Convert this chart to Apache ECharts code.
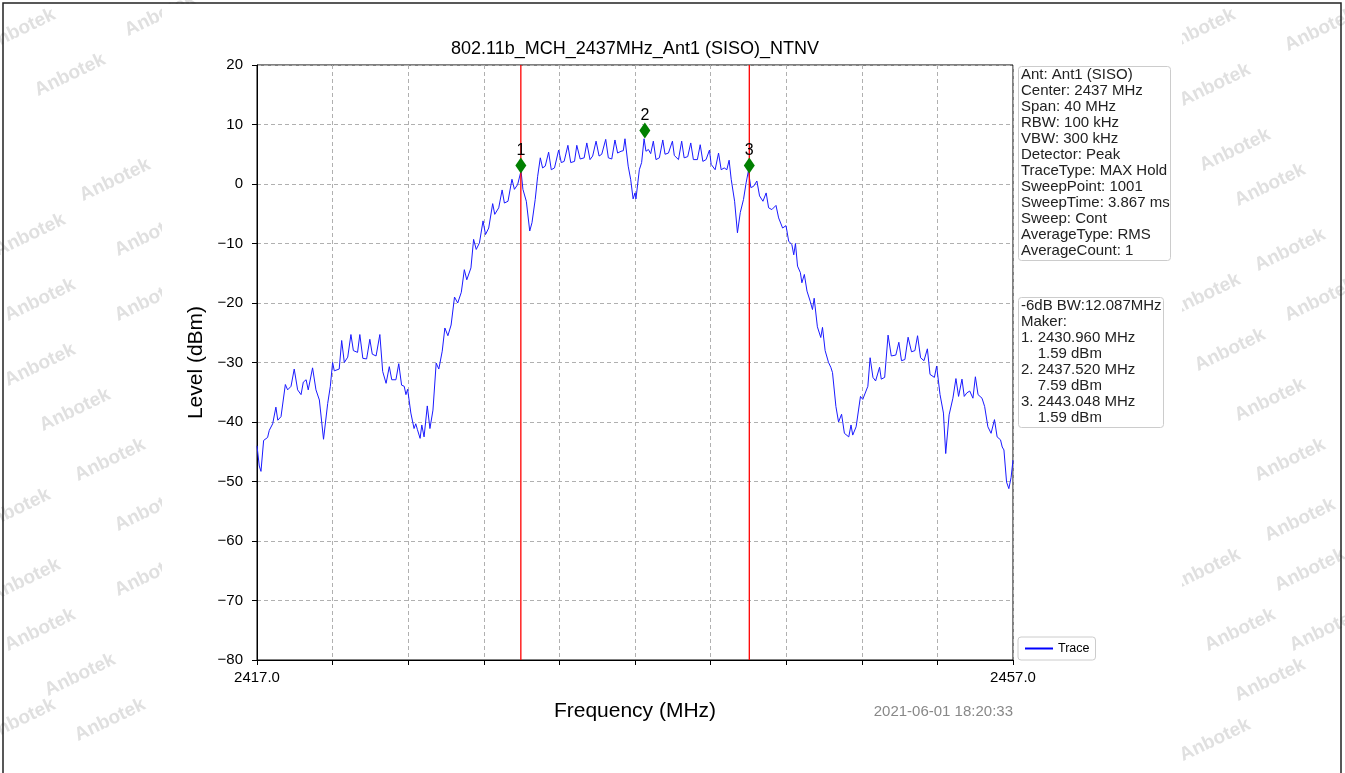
<!DOCTYPE html>
<html>
<head>
<meta charset="utf-8">
<script src="https://cdn.jsdelivr.net/npm/echarts@6/dist/echarts.min.js"></script>
<style>
html,body{margin:0;padding:0;background:#fff;}
#chart{width:1345px;height:773px;}
</style>
</head>
<body>
<div id="chart"></div>
<script>
// ---- data ----
const titleText = '802.11b_MCH_2437MHz_Ant1 (SISO)_NTNV';
const freqMHz = [
2417.00,2417.12,2417.21,2417.35,2417.56,2417.65,2417.83,2418.00,2418.10,2418.27,
2418.50,2418.62,2418.80,2418.97,2419.15,2419.33,2419.45,2419.60,2419.71,2419.94,
2420.12,2420.30,2420.52,2420.74,2420.88,2421.00,2421.09,2421.35,2421.48,2421.62,
2421.80,2421.97,2422.10,2422.32,2422.44,2422.60,2422.80,2422.97,2423.10,2423.30,
2423.50,2423.65,2423.83,2424.00,2424.13,2424.35,2424.50,2424.65,2424.79,2424.88,
2424.97,2425.14,2425.31,2425.40,2425.49,2425.63,2425.72,2425.84,2426.01,2426.15,
2426.31,2426.48,2426.62,2426.80,2426.94,2427.10,2427.27,2427.45,2427.62,2427.81,
2427.97,2428.10,2428.32,2428.46,2428.60,2428.77,2428.96,2429.09,2429.26,2429.47,
2429.58,2429.79,2429.97,2430.09,2430.28,2430.49,2430.62,2430.79,2430.97,2431.07,
2431.25,2431.43,2431.55,2431.72,2431.85,2431.99,2432.11,2432.25,2432.43,2432.57,
2432.74,2432.96,2433.10,2433.25,2433.45,2433.60,2433.80,2433.92,2434.10,2434.31,
2434.45,2434.62,2434.76,2434.94,2435.10,2435.24,2435.45,2435.59,2435.77,2435.94,
2436.08,2436.26,2436.38,2436.47,2436.64,2436.77,2436.90,2437.00,2437.05,2437.23,
2437.35,2437.48,2437.58,2437.71,2437.83,2437.97,2438.11,2438.29,2438.47,2438.59,
2438.77,2438.98,2439.08,2439.30,2439.47,2439.60,2439.79,2439.95,2440.09,2440.30,
2440.45,2440.59,2440.76,2440.94,2441.03,2441.24,2441.42,2441.56,2441.72,2441.86,
2441.98,2442.09,2442.27,2442.42,2442.57,2442.74,2442.88,2443.00,2443.13,2443.27,
2443.45,2443.59,2443.77,2443.94,2444.07,2444.24,2444.46,2444.60,2444.81,2444.99,
2445.13,2445.30,2445.40,2445.49,2445.60,2445.75,2445.83,2445.96,2446.10,2446.27,
2446.39,2446.48,2446.65,2446.83,2446.92,2447.06,2447.24,2447.36,2447.45,2447.63,
2447.77,2447.93,2448.08,2448.31,2448.43,2448.52,2448.70,2448.93,2449.05,2449.32,
2449.44,2449.59,2449.73,2449.94,2450.03,2450.21,2450.39,2450.56,2450.80,2450.96,
2451.10,2451.28,2451.45,2451.63,2451.81,2451.95,2452.11,2452.29,2452.47,2452.61,
2452.84,2452.96,2453.14,2453.32,2453.44,2453.62,2453.82,2453.98,2454.12,2454.30,
2454.42,2454.56,2454.71,2454.88,2455.01,2455.15,2455.36,2455.50,2455.67,2455.84,
2456.02,2456.16,2456.34,2456.43,2456.52,2456.66,2456.78,2456.90,2457.00
];
const levelDbm = [
-44.0,-47.4,-48.3,-43.1,-42.6,-41.4,-40.3,-37.5,-39.7,-39.1,
-33.7,-34.6,-34.0,-31.1,-34.6,-35.4,-33.3,-32.9,-34.6,-30.9,
-34.6,-36.3,-42.9,-36.9,-34.0,-30.0,-31.4,-31.1,-26.3,-30.0,
-29.1,-25.3,-28.0,-28.3,-25.3,-29.3,-29.4,-26.1,-28.6,-28.9,
-25.3,-31.5,-33.5,-30.7,-32.9,-32.9,-30.2,-33.8,-34.0,-35.4,
-34.5,-38.5,-41.1,-40.3,-41.3,-42.75,-40.5,-42.5,-37.3,-41.1,
-38.0,-30.1,-31.1,-28.1,-24.2,-25.5,-23.7,-19.0,-20.0,-18.2,
-14.4,-16.1,-14.1,-9.3,-11.0,-9.9,-6.2,-8.5,-7.4,-3.3,
-5.1,-4.0,-1.0,-3.2,-2.9,0.8,-0.9,-0.1,2.2,-0.9,
-2.9,-7.9,-6.5,-2.6,1.3,4.4,2.7,3.0,5.35,2.4,
2.7,5.7,3.6,3.8,6.5,3.6,3.8,6.5,4.2,4.4,
6.9,4.1,4.7,7.2,4.7,5.0,7.5,4.4,4.2,7.4,
5.2,5.5,5.6,7.6,3.0,0.8,-2.5,-1.5,-2.5,2.4,
3.6,7.6,5.5,5.8,5.1,7.2,4.1,4.4,7.4,5.0,
5.2,7.2,4.8,4.1,7.2,4.4,4.6,6.9,4.1,4.1,
6.6,3.8,4.1,5.7,3.3,2.4,5.2,2.4,2.7,2.4,
4.0,0.8,-2.9,-8.2,-4.8,-2.6,0.2,2.2,-0.6,-0.4,
0.5,-2.0,-2.9,-1.5,-4.0,-4.3,-3.6,-5.7,-7.4,-7.0,
-9.6,-10.2,-11.9,-10.0,-13.8,-14.9,-16.6,-15.2,-18.0,-19.7,
-21.1,-19.2,-24.0,-25.8,-24.1,-28.0,-30.0,-30.8,-31.7,-37.4,
-40.0,-38.7,-41.9,-42.5,-40.5,-42.2,-40.8,-35.7,-36.2,-34.0,
-29.2,-32.5,-33.1,-30.8,-32.8,-32.5,-25.4,-28.9,-28.75,-26.6,
-29.7,-29.5,-25.75,-28.2,-28.0,-25.5,-29.2,-29.7,-27.7,-32.0,
-32.5,-30.6,-35.4,-38.5,-45.3,-38.8,-36.0,-32.7,-35.7,-32.8,
-35.7,-35.1,-34.8,-36.0,-32.4,-35.4,-36.0,-37.4,-40.8,-41.9,
-39.6,-42.5,-43.0,-44.2,-44.7,-50.1,-51.2,-49.3,-46.4
];
const markerNames = ['1','2','3'];
const markerFreq = [2430.960, 2437.520, 2443.048];
const markerLevel = [3.1, 9.0, 3.1];
const redLineFreq = [2430.960, 2443.048];
const infoLines = ['Ant: Ant1 (SISO)','Center: 2437 MHz','Span: 40 MHz','RBW: 100 kHz','VBW: 300 kHz',
  'Detector: Peak','TraceType: MAX Hold','SweepPoint: 1001','SweepTime: 3.867 ms','Sweep: Cont',
  'AverageType: RMS','AverageCount: 1'];
const markerLines = ['-6dB BW:12.087MHz','Maker:','1. 2430.960 MHz','    1.59 dBm','2. 2437.520 MHz',
  '    7.59 dBm','3. 2443.048 MHz','    1.59 dBm'];
const timestamp = '2021-06-01 18:20:33';
const xMin = 2417, xMax = 2457, xStep = 4;
const yMin = -80, yMax = 20, yStep = 10;

// ---- chart ----
const FONT = 'Liberation Sans, Arial, sans-serif';
const trace = freqMHz.map((f, i) => [f, levelDbm[i]]);
const markers = markerFreq.map((f, i) => ({ name: markerNames[i], value: [f, markerLevel[i]] }));

const wm = [];
const wmPos = [[20,30],[160,15],[70,75],[115,180],[150,235],[30,235],[150,300],[40,300],[40,365],[75,410],
  [110,460],[15,510],[150,510],[25,580],[150,575],[40,630],[80,675],[110,720],[20,720],
  [1200,30],[1320,30],[1215,85],[1235,150],[1270,185],[1290,250],[1205,295],[1320,300],[1230,350],
  [1270,400],[1290,460],[1205,570],[1310,570],[1240,630],[1270,680],[1300,520],[1325,630],[1215,740]];
wmPos.forEach(p => wm.push({
  type: 'text', x: p[0], y: p[1], rotation: Math.PI / 7, z: -2,
  style: { text: 'Anbotek', fill: '#e0e0e0', font: 'bold 19px ' + FONT, align: 'center', verticalAlign: 'middle' }
}));

const redSeries = redLineFreq.map((f, i) => ({
  name: 'marker line ' + (i + 1), type: 'line', data: [[f, yMin], [f, yMax]],
  showSymbol: false, symbol: 'none', silent: true, z: 4,
  lineStyle: { color: '#ff0000', width: 1.3 }, itemStyle: { color: '#ff0000' }
}));

const chart = echarts.init(document.getElementById('chart'), null, { renderer: 'canvas' });
chart.setOption({
  backgroundColor: '#fff',
  animation: false,
  grid: { left: 257, right: 332, top: 65, bottom: 113, show: true, borderColor: '#000', borderWidth: 1,
    backgroundColor: 'transparent', containLabel: false, outerBoundsMode: 'none' },
  legend: {
    data: ['Trace'], left: 1018, top: 637, orient: 'vertical',
    padding: [5, 6, 5, 7], itemWidth: 28, itemHeight: 2, itemGap: 4,
    backgroundColor: '#fff', borderColor: '#ccc', borderWidth: 1, borderRadius: 3,
    textStyle: { fontFamily: FONT, fontSize: 12.5, color: '#000' },
    icon: 'rect'
  },
  xAxis: {
    type: 'value', min: xMin, max: xMax, interval: xStep,
    name: 'Frequency (MHz)', nameLocation: 'middle', nameGap: 41,
    nameTextStyle: { fontFamily: FONT, fontSize: 21, color: '#000' },
    axisLine: { show: true, onZero: false, lineStyle: { color: '#000', width: 1 } },
    axisTick: { show: true, inside: false, length: 5, lineStyle: { color: '#000' } },
    axisLabel: { show: true, margin: 10, showMinLabel: true, showMaxLabel: true,
      fontFamily: FONT, fontSize: 15, color: '#000',
      formatter: v => (Math.abs(v - xMin) < 1e-6 || Math.abs(v - xMax) < 1e-6) ? v.toFixed(1) : '' },
    splitLine: { show: true, lineStyle: { color: '#b0b0b0', type: [4, 3], width: 1 } }
  },
  yAxis: {
    type: 'value', min: yMin, max: yMax, interval: yStep,
    name: 'Level (dBm)', nameLocation: 'middle', nameGap: 46, nameRotate: 90,
    nameTextStyle: { fontFamily: FONT, fontSize: 21, color: '#000' },
    axisLine: { show: true, onZero: false, lineStyle: { color: '#000', width: 1 } },
    axisTick: { show: true, inside: false, length: 5, lineStyle: { color: '#000' } },
    axisLabel: { margin: 14, fontFamily: FONT, fontSize: 15, color: '#000',
      formatter: v => String(v).replace('-', '\u2212') },
    splitLine: { show: true, lineStyle: { color: '#b0b0b0', type: [4, 3], width: 1 } }
  },
  series: [
    {
      name: 'Trace', type: 'line', data: trace, showSymbol: false, symbol: 'none',
      color: '#0000ff', lineStyle: { color: '#1a1aff', width: 1 }, z: 3
    },
    ...redSeries,
    {
      name: 'Markers', type: 'scatter', data: markers, symbol: 'diamond', symbolSize: [11, 16],
      itemStyle: { color: '#008000', opacity: 1 }, z: 5,
      label: { show: true, position: 'top', distance: -1, formatter: p => p.name,
        fontFamily: FONT, fontSize: 16, color: '#000' }
    }
  ],
  graphic: [
    ...wm,
    { type: 'rect', shape: { x: 162, y: 4, width: 1020, height: 769 }, style: { fill: '#fff' }, z: -1 },
    { type: 'rect', shape: { x: 3, y: 3, width: 1338, height: 780 }, style: { fill: 'none', stroke: '#222', lineWidth: 1.5 }, z: 10 },
    { type: 'text', x: 635, y: 49, z: 11,
      style: { text: titleText, font: '18px ' + FONT, fill: '#000', align: 'center', verticalAlign: 'middle' } },
    { type: 'rect', shape: { x: 1018.5, y: 66.5, width: 152, height: 194, r: 3 },
      style: { fill: '#fff', stroke: '#ccc', lineWidth: 1 }, z: 10 },
    { type: 'text', x: 1021, y: 67, z: 11,
      style: { text: infoLines.join('\n'), font: '15px ' + FONT, fill: '#222', lineHeight: 16 } },
    { type: 'rect', shape: { x: 1018.5, y: 297.5, width: 145, height: 130, r: 3 },
      style: { fill: '#fff', stroke: '#ccc', lineWidth: 1 }, z: 10 },
    { type: 'text', x: 1021, y: 298, z: 11,
      style: { text: markerLines.join('\n'), font: '15px ' + FONT, fill: '#222', lineHeight: 16 } },
    { type: 'text', x: 1013, y: 712, z: 11,
      style: { text: timestamp, font: '15px ' + FONT, fill: '#888', align: 'right', verticalAlign: 'middle' } }
  ]
});
</script>
</body>
</html>
